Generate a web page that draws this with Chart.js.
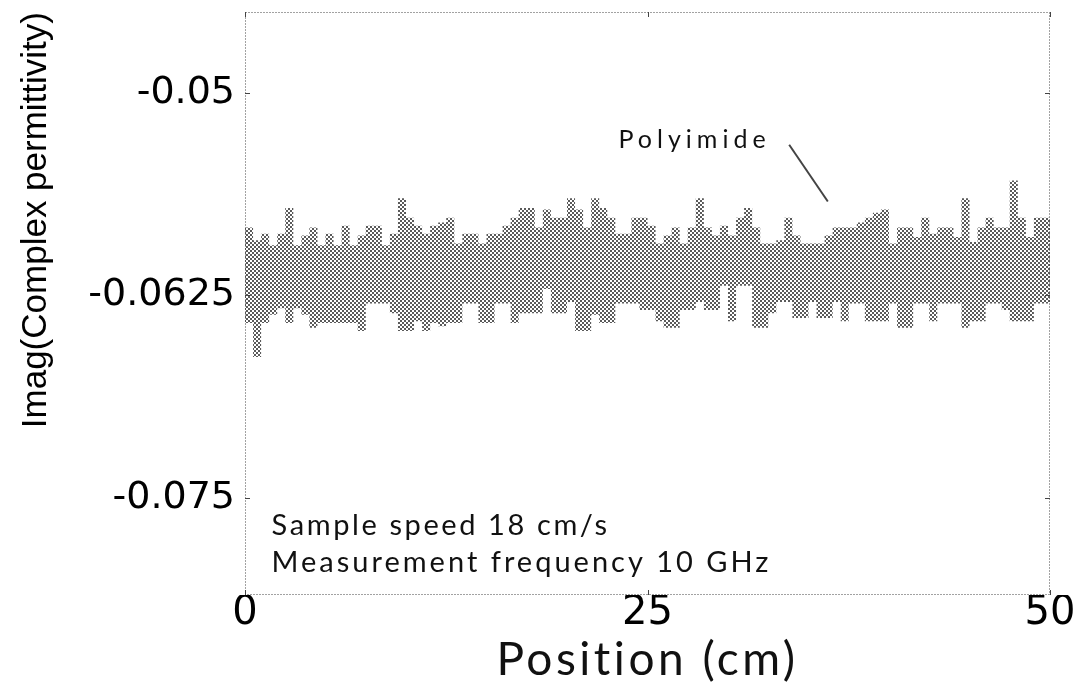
<!DOCTYPE html>
<html>
<head>
<meta charset="utf-8">
<title>Imag(Complex permittivity) vs Position</title>
<script src="https://cdn.jsdelivr.net/npm/chart.js@4.4.1/dist/chart.umd.min.js"></script>
<style>
  html, body { margin: 0; padding: 0; background: #fff; }
  #wrap { width: 1084px; height: 685px; }
</style>
</head>
<body>
<div id="wrap"><canvas id="permittivityChart" width="1084" height="685"></canvas></div>
<script>
// Position along the sample (cm), one reading every 0.5 cm
const positions = [
  0, 0.5, 1, 1.5, 2, 2.5, 3, 3.5, 4, 4.5, 5, 5.5, 6, 6.5, 7, 7.5, 8, 8.5, 9, 9.5,
  10, 10.5, 11, 11.5, 12, 12.5, 13, 13.5, 14, 14.5, 15, 15.5, 16, 16.5, 17, 17.5, 18, 18.5, 19, 19.5,
  20, 20.5, 21, 21.5, 22, 22.5, 23, 23.5, 24, 24.5, 25, 25.5, 26, 26.5, 27, 27.5, 28, 28.5, 29, 29.5,
  30, 30.5, 31, 31.5, 32, 32.5, 33, 33.5, 34, 34.5, 35, 35.5, 36, 36.5, 37, 37.5, 38, 38.5, 39, 39.5,
  40, 40.5, 41, 41.5, 42, 42.5, 43, 43.5, 44, 44.5, 45, 45.5, 46, 46.5, 47, 47.5, 48, 48.5, 49, 49.5,
  50
];

// upper edge of the noisy Polyimide trace
const polyimideMax = [
  -0.0593, -0.0583, -0.0591, -0.0587, -0.0594, -0.0587, -0.0571, -0.0594, -0.0588, -0.0583,
  -0.0594, -0.0587, -0.0594, -0.0582, -0.0594, -0.0588, -0.0582, -0.0582, -0.0594, -0.0587,
  -0.0565, -0.0577, -0.0582, -0.0587, -0.0582, -0.0580, -0.0577, -0.0593, -0.0587, -0.0587,
  -0.0593, -0.0587, -0.0587, -0.0582, -0.0577, -0.0571, -0.0571, -0.0583, -0.0572, -0.0577,
  -0.0577, -0.0565, -0.0572, -0.0583, -0.0565, -0.0571, -0.0577, -0.0587, -0.0587, -0.0577,
  -0.0577, -0.0582, -0.0593, -0.0588, -0.0583, -0.0593, -0.0583, -0.0565, -0.0583, -0.0588,
  -0.0582, -0.0588, -0.0577, -0.0571, -0.0583, -0.0593, -0.0593, -0.0591, -0.0577, -0.0588,
  -0.0593, -0.0593, -0.0593, -0.0588, -0.0583, -0.0583, -0.0583, -0.0580, -0.0577, -0.0574,
  -0.0572, -0.0593, -0.0583, -0.0583, -0.0589, -0.0577, -0.0587, -0.0583, -0.0583, -0.0589,
  -0.0565, -0.0592, -0.0583, -0.0577, -0.0583, -0.0583, -0.0554, -0.0577, -0.0589, -0.0577,
  -0.0577
];

// lower edge of the noisy Polyimide trace
const polyimideMin = [
  -0.0643, -0.0642, -0.0663, -0.0642, -0.0637, -0.0633, -0.0642, -0.0633, -0.0637, -0.0645,
  -0.0642, -0.0642, -0.0642, -0.0642, -0.0642, -0.0647, -0.0630, -0.0630, -0.0630, -0.0636,
  -0.0647, -0.0647, -0.0641, -0.0647, -0.0642, -0.0644, -0.0642, -0.0642, -0.0630, -0.0630,
  -0.0642, -0.0642, -0.0630, -0.0630, -0.0642, -0.0636, -0.0636, -0.0636, -0.0621, -0.0636,
  -0.0636, -0.0629, -0.0647, -0.0647, -0.0637, -0.0642, -0.0642, -0.0630, -0.0630, -0.0630,
  -0.0634, -0.0634, -0.0641, -0.0645, -0.0645, -0.0634, -0.0634, -0.0629, -0.0634, -0.0634,
  -0.0619, -0.0641, -0.0619, -0.0619, -0.0645, -0.0645, -0.0636, -0.0629, -0.0629, -0.0639,
  -0.0639, -0.0629, -0.0639, -0.0639, -0.0629, -0.0641, -0.0630, -0.0630, -0.0641, -0.0641,
  -0.0641, -0.0630, -0.0645, -0.0645, -0.0630, -0.0630, -0.0641, -0.0630, -0.0630, -0.0630,
  -0.0645, -0.0641, -0.0641, -0.0630, -0.0630, -0.0634, -0.0641, -0.0641, -0.0641, -0.0630,
  -0.0630
];

const xTickValues = [0, 25, 50];
const yTickValues = [-0.075, -0.0625, -0.05];
const yTickLabels = ["-0.075", "-0.0625", "-0.05"];

const xTitle = "Position (cm)";
const infoLines = ["Sample speed 18 cm/s", "Measurement frequency 10 GHz"];
const traceLabel = "Polyimide";

// halftone look of the printed trace
function makeDotPattern() {
  const tile = document.createElement("canvas");
  tile.width = 4;
  tile.height = 4;
  const c = tile.getContext("2d");
  c.fillStyle = "#ffffff";
  c.fillRect(0, 0, 4, 4);
  c.fillStyle = "#5a5a5a";
  c.fillRect(0, 0, 2, 2);
  c.fillRect(2, 2, 2, 2);
  return document.getElementById("permittivityChart").getContext("2d").createPattern(tile, "repeat");
}

function spacedText(ctx, text, x, y, font, spacing) {
  ctx.font = font;
  ctx.letterSpacing = spacing + "px";
  ctx.fillText(text, x, y);
  ctx.letterSpacing = "0px";
}

// dotted frame, inner tick marks and the text notes
const framePlugin = {
  id: "frameAndNotes",
  afterDatasetsDraw(chart) {
    const { ctx, chartArea: a, scales } = chart;
    const x = scales.x, y = scales.y;
    ctx.save();
    ctx.strokeStyle = "#444";
    ctx.lineWidth = 1;
    ctx.setLineDash([1, 2]);
    ctx.strokeRect(a.left + 0.5, a.top + 0.5, a.right - a.left - 1, a.bottom - a.top - 1);
    ctx.setLineDash([]);
    ctx.beginPath();
    xTickValues.forEach((v) => {
      const px = Math.round(x.getPixelForValue(v)) + 0.5;
      ctx.moveTo(px, a.bottom); ctx.lineTo(px, a.bottom - 5);
      ctx.moveTo(px, a.top); ctx.lineTo(px, a.top + 5);
    });
    yTickValues.forEach((v) => {
      const py = Math.round(y.getPixelForValue(v)) + 0.5;
      ctx.moveTo(a.left, py); ctx.lineTo(a.left + 5, py);
      ctx.moveTo(a.right, py); ctx.lineTo(a.right - 5, py);
    });
    ctx.stroke();

    ctx.fillStyle = "#111";
    ctx.textBaseline = "middle";

    // notes in the lower left corner
    ctx.textAlign = "left";
    spacedText(ctx, infoLines[0], x.getPixelForValue(1.65), y.getPixelForValue(-0.0767), "29px Lato", 2.6);
    spacedText(ctx, infoLines[1], x.getPixelForValue(1.65), y.getPixelForValue(-0.0790), "29px Lato", 3);

    // trace label with its pointer
    spacedText(ctx, traceLabel, x.getPixelForValue(23.2), y.getPixelForValue(-0.0529), "25px Lato", 5);
    ctx.beginPath();
    ctx.lineWidth = 2;
    ctx.moveTo(x.getPixelForValue(33.8), y.getPixelForValue(-0.0532));
    ctx.lineTo(x.getPixelForValue(36.2), y.getPixelForValue(-0.0567));
    ctx.stroke();

    // x axis title
    ctx.textAlign = "center";
    spacedText(ctx, xTitle, (a.left + a.right) / 2, 660, "46px Lato", 3.5);
    ctx.restore();
  },
};

const config = {
  type: "line",
  data: {
    datasets: [
      {
        label: "Polyimide max",
        data: positions.map((p, i) => ({ x: p, y: polyimideMax[i] })),
        stepped: "after",
        borderWidth: 0,
        borderColor: "rgba(0,0,0,0)",
        pointRadius: 0,
        fill: false,
      },
      {
        label: "Polyimide min",
        data: positions.map((p, i) => ({ x: p, y: polyimideMin[i] })),
        stepped: "after",
        borderWidth: 0,
        borderColor: "rgba(0,0,0,0)",
        backgroundColor: makeDotPattern(),
        pointRadius: 0,
        fill: "-1",
      },
    ],
  },
  options: {
    responsive: false,
    animation: false,
    layout: { padding: { top: 12, right: 34, left: 0, bottom: 0 } },
    plugins: {
      legend: { display: false },
      tooltip: { enabled: false },
    },
    scales: {
      x: {
        type: "linear",
        min: 0,
        max: 50,
        afterBuildTicks: (s) => { s.ticks = xTickValues.map((v) => ({ value: v })); },
        afterFit: (s) => {
          s.height = 90;
          s.paddingLeft = 0;
          s.paddingRight = 0;
        },
        grid: { display: false, drawTicks: false },
        border: { display: false },
        ticks: {
          color: "#000",
          padding: -5,
          maxRotation: 0,
          font: { family: "DejaVu Sans", size: 40 },
          callback: (v) => String(v),
        },
        title: { display: false },
      },
      y: {
        type: "linear",
        min: -0.081,
        max: -0.045,
        afterBuildTicks: (s) => { s.ticks = yTickValues.map((v) => ({ value: v })); },
        afterFit: (s) => {
          s.width = 245;
          s.paddingTop = 0;
          s.paddingBottom = 0;
        },
        grid: { display: false, drawTicks: false },
        border: { display: false },
        ticks: {
          color: "#000",
          padding: 10,
          font: { family: "DejaVu Sans", size: 38 },
          callback: (v) => yTickLabels[yTickValues.indexOf(v)],
        },
        title: {
          display: true,
          text: "Imag(Complex permittivity)",
          align: "end",
          color: "#000",
          font: { family: "Liberation Sans", size: 35, lineHeight: 1.2 },
          padding: { top: 15, bottom: 0 },
        },
      },
    },
  },
  plugins: [framePlugin],
};

new Chart(document.getElementById("permittivityChart"), config);
</script>
</body>
</html>
